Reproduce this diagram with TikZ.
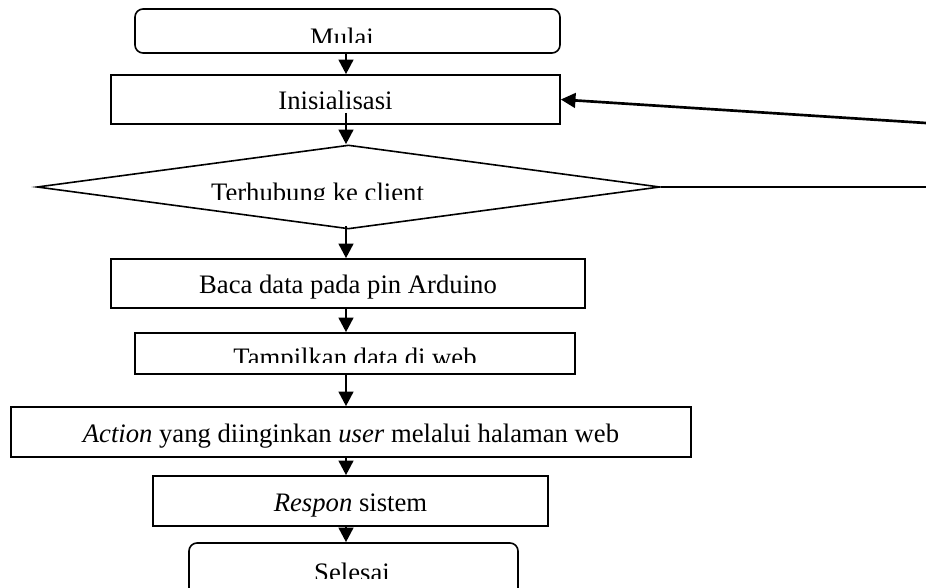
\documentclass[tikz,border=0pt]{standalone}
\usepackage{fontspec}
\setmainfont{Liberation Serif}
\usetikzlibrary{arrows.meta,shapes.geometric}

\tikzset{
    kotak/.style={draw, line width=1.2pt, inner sep=0pt, text height=15.5pt, text depth=0pt},
    ujung/.style={kotak, rounded corners=6pt},
    belah/.style={draw, diamond, line width=1.2pt, inner sep=0pt},
    panah/.style={-{Triangle[length=11pt,width=11pt]}, line width=2pt}
}

\begin{document}
\begin{tikzpicture}[x=0.75pt, y=-0.75pt, font=\fontsize{20}{24}\selectfont]
        \useasboundingbox (0,0) rectangle (926,588);
        \clip (0,0) rectangle (926,588);

        % Kotak alur
        \node[ujung, minimum width=318.75pt, minimum height=33pt] (mulai) at (347.5,31) {};
        \node[kotak, minimum width=336.75pt, minimum height=36.75pt] (init) at (335.5,99.5) {Inisialisasi};
        \node[belah, minimum width=467.25pt, minimum height=63pt] (cek) at (348.5,187) {};
        \node[kotak, minimum width=355.5pt, minimum height=36.75pt] (baca) at (348,283.5) {Baca data pada pin Arduino};
        \node[kotak, minimum width=330pt, minimum height=30.75pt] (tampil) at (355,353.5) {};
        \node[kotak, minimum width=510pt, minimum height=37.5pt] (aksi) at (351,432) {\textit{Action} yang diinginkan \textit{user} melalui halaman web};
        \node[kotak, minimum width=296.25pt, minimum height=37.5pt] (respon) at (350.5,501) {\textit{Respon} sistem};
        \node[ujung, minimum width=246.75pt, minimum height=45pt] (selesai) at (353.5,573) {};

        % Teks yang terpotong
        \begin{scope}
            \clip (0,0) rectangle (926,43);
            \node[anchor=base, inner sep=0pt] (mulai-teks) at (342,47) {Mulai};
        \end{scope}
        \begin{scope}
            \clip (0,150) rectangle (926,200);
            \node[anchor=base, inner sep=0pt] (cek-teks) at (317.5,202) {Terhubung ke client};
        \end{scope}
        \begin{scope}
            \clip (0,340) rectangle (926,363);
            \node[anchor=base, inner sep=0pt] (tampil-teks) at (355,367) {Tampilkan data di web};
        \end{scope}
        \begin{scope}
            \clip (0,550) rectangle (926,578);
            \node[anchor=base, inner sep=0pt] (selesai-teks) at (352,581) {Selesai};
        \end{scope}

        % Panah
        \coordinate (sumbu) at (346,0);
        \draw[panah] (mulai.south -| sumbu) -- (init.north -| sumbu);
        \draw[panah] ([yshift=9pt]init.south -| sumbu) -- (cek.north -| sumbu);
        \draw[panah] ([yshift=3pt]cek.south -| sumbu) -- (baca.north -| sumbu);
        \draw[panah] (baca.south -| sumbu) -- (tampil.north -| sumbu);
        \draw[panah] (tampil.south -| sumbu) -- (aksi.north -| sumbu);
        \draw[panah] (aksi.south -| sumbu) -- (respon.north -| sumbu);
        \draw[panah] (respon.south -| sumbu) -- (selesai.north -| sumbu);

        % Kembali ke inisialisasi
        \coordinate (kanan-bawah) at (926,187);
        \coordinate (kanan-atas) at (926,123);
        \draw[line width=1.2pt] (cek.east) -- (kanan-bawah);
        \draw[panah] (kanan-atas) -- (init.east);
\end{tikzpicture}
\end{document}
